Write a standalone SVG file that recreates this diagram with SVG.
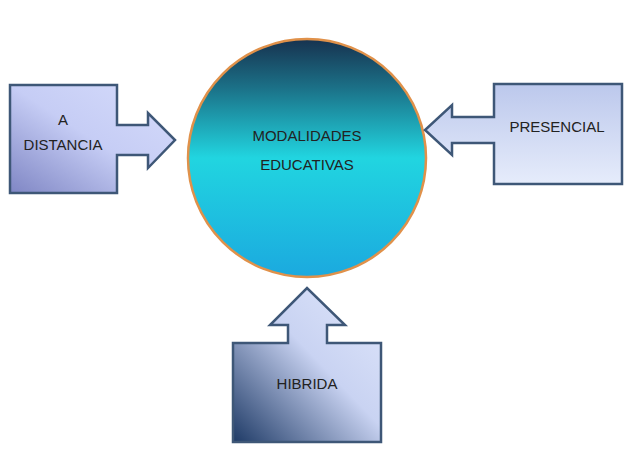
<svg xmlns="http://www.w3.org/2000/svg" width="640" height="476" viewBox="0 0 640 476">
<defs>
<linearGradient id="cg" x1="0" y1="0" x2="0" y2="1">
<stop offset="0" stop-color="#17324f"/><stop offset="0.2" stop-color="#1b6f86"/><stop offset="0.5" stop-color="#21d5e0"/><stop offset="1" stop-color="#1ba9df"/></linearGradient>
<linearGradient id="lg" x1="1" y1="0" x2="0" y2="1">
<stop offset="0" stop-color="#d6dcfb"/><stop offset="0.5" stop-color="#c6cdf5"/><stop offset="1" stop-color="#7f86c4"/></linearGradient>
<linearGradient id="rg" x1="0" y1="0" x2="0" y2="1">
<stop offset="0" stop-color="#bcc8ec"/><stop offset="1" stop-color="#e6ecfb"/></linearGradient>
<linearGradient id="bg" x1="1" y1="0" x2="0" y2="1">
<stop offset="0" stop-color="#dfe6fb"/><stop offset="0.45" stop-color="#c9d3f2"/><stop offset="1" stop-color="#1e3a66"/></linearGradient>
<style>.c{stroke:#3e5777;stroke-width:2.5;stroke-linejoin:miter}.t{font-family:"Liberation Sans",Arial,sans-serif;font-size:15px;fill:#222;text-anchor:middle}</style>
</defs>
<g id="center"><circle cx="307" cy="158" r="119" fill="url(#cg)" stroke="#e0914a" stroke-width="2.5"/>
<text class="t" x="307" y="141" font-size="17">MODALIDADES</text><text class="t" x="307" y="170" font-size="17">EDUCATIVAS</text></g>
<g id="distancia"><path class="c" fill="url(#lg)" d="M10,85H117V125H148V113L175,140L148,168V155H117V193H10Z"/>
<text class="t" x="63" y="125">A</text><text class="t" x="63" y="150">DISTANCIA</text></g>
<g id="presencial"><path class="c" fill="url(#rg)" d="M622,84V184H494V143H452V155L425,130L452,105V117H494V84Z"/>
<text class="t" x="557" y="132">PRESENCIAL</text></g>
<g id="hibrida"><path class="c" fill="url(#bg)" d="M233,343H288V325H270L307,288L345,325H327V343H381V442H233Z"/>
<text class="t" x="307" y="389">HIBRIDA</text></g>
</svg>
